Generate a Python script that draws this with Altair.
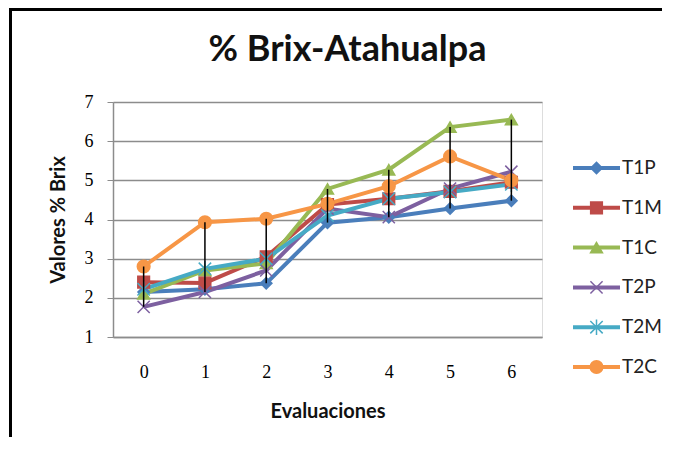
import altair as alt
import pandas as pd

evaluaciones = [0, 1, 2, 3, 4, 5, 6]
series = ["T1P", "T1M", "T1C", "T2P", "T2M", "T2C"]
T1P = [2.15, 2.22, 2.37, 3.92, 4.06, 4.28, 4.48]
T1M = [2.40, 2.38, 3.05, 4.38, 4.53, 4.72, 4.95]
T1C = [2.10, 2.70, 2.88, 4.78, 5.27, 6.36, 6.55]
T2P = [1.77, 2.15, 2.70, 4.28, 4.06, 4.79, 5.22]
T2M = [2.22, 2.74, 3.00, 4.10, 4.53, 4.70, 4.90]
T2C = [2.80, 3.93, 4.02, 4.40, 4.85, 5.61, 5.00]
y_ticks = [1, 2, 3, 4, 5, 6, 7]

colors = ["#4A7EBB", "#BE4B48", "#98B954", "#7D60A0", "#46AAC5", "#F79646"]
shapes = ["diamond", "square", "triangle-up",
          "M-1,-1L1,1M-1,1L1,-1",
          "M-1,-1L1,1M-1,1L1,-1M0,-1.25L0,1.25",
          "circle"]
sizes = [130, 160, 160, 140, 140, 180]

values = [T1P, T1M, T1C, T2P, T2M, T2C]
rows = []
for s, vals in zip(series, values):
    for e, v in zip(evaluaciones, vals):
        rows.append({"eval": e, "series": s, "value": v, "order": series.index(s)})
df = pd.DataFrame(rows)
leg = pd.DataFrame({"series": series})
one = pd.DataFrame({"k": [0]})

W, H = 429, 235
PL, PT = 105, 94

color_scale = alt.Scale(domain=series, range=colors)
shape_scale = alt.Scale(domain=series, range=shapes)
size_scale = alt.Scale(domain=series, range=sizes)

x_enc = alt.X("eval:O", scale=alt.Scale(type="point", padding=0.5),
              axis=alt.Axis(title="Evaluaciones", labelAngle=0, ticks=False,
                            labelPadding=26, titlePadding=20, domain=True,
                            domainColor="#8c8c8c", domainWidth=1.5,
                            labelFont="Liberation Serif", labelFontSize=18,
                            labelColor="#000000", titleFont="Lato",
                            titleFontSize=20, titleFontWeight="bold",
                            titleColor="#111111", grid=False))
y_axis = alt.Axis(title="Valores % Brix", values=y_ticks,
                  labelOverlap=False, labelBound=False,
                  tickSize=6, tickColor="#8c8c8c", labelPadding=14,
                  titlePadding=16, domainColor="#8c8c8c", domainWidth=1.5,
                  gridColor="#8c8c8c", gridWidth=1.5,
                  labelFont="Liberation Serif", labelFontSize=18,
                  labelColor="#000000", titleFont="Lato",
                  titleFontSize=20, titleFontWeight="bold",
                  titleColor="#111111")
y_scale = alt.Scale(domain=[1, 7], nice=False, zero=False)
y_enc = alt.Y("value:Q", scale=y_scale, axis=y_axis)

lines = alt.Chart(df).mark_line(strokeWidth=4).encode(
    x=x_enc, y=y_enc,
    color=alt.Color("series:N", scale=color_scale, legend=None),
    order="order:Q", detail="series:N")

points = alt.Chart(df).mark_point(filled=True, strokeWidth=1.5, opacity=1).encode(
    x=x_enc, y=y_enc,
    color=alt.Color("series:N", scale=color_scale, legend=None),
    stroke=alt.Stroke("series:N", scale=color_scale, legend=None),
    shape=alt.Shape("series:N", scale=shape_scale, legend=None),
    size=alt.Size("series:N", scale=size_scale, legend=None),
    order="order:Q")

hilo = alt.Chart(df).mark_rule(color="black", strokeWidth=1.5).encode(
    x=x_enc, y=alt.Y("min(value):Q", scale=y_scale, axis=y_axis),
    y2="max(value):Q")

main = alt.layer(lines, points, hilo)

ly = alt.Y("series:N", scale=alt.Scale(type="point", domain=series, range=[66, 265], padding=0), axis=None)
leg_line = alt.Chart(leg).mark_rule(strokeWidth=4).encode(
    x=alt.value(460), x2=alt.value(507), y=ly,
    color=alt.Color("series:N", scale=color_scale, legend=None))
leg_pt = alt.Chart(leg).mark_point(filled=True, strokeWidth=1.5, opacity=1).encode(
    x=alt.value(483.5), y=ly,
    color=alt.Color("series:N", scale=color_scale, legend=None),
    stroke=alt.Stroke("series:N", scale=color_scale, legend=None),
    shape=alt.Shape("series:N", scale=shape_scale, legend=None),
    size=alt.Size("series:N", scale=size_scale, legend=None))
leg_txt = alt.Chart(leg).mark_text(align="left", baseline="middle", font="Lato",
                                   fontSize=19, color="#222222", dx=0).encode(
    x=alt.value(509), y=ly, text="series:N")
legend = alt.layer(leg_line, leg_pt, leg_txt)

frame_left = alt.Chart(one).mark_rule(color="black", strokeWidth=3).encode(
    x=alt.value(-PL + 2.5), y=alt.value(-PT + 0.5), y2=alt.value(H + 200))
frame_top = alt.Chart(one).mark_rule(color="black", strokeWidth=3).encode(
    y=alt.value(-PT + 1.5), x=alt.value(-PL + 1), x2=alt.value(W + 140))
frame = alt.layer(frame_left, frame_top)

chart = alt.layer(frame, main, legend).resolve_scale(y="independent").properties(
    width=W, height=H,
    title=alt.TitleParams("% Brix-Atahualpa", font="Lato", fontSize=36,
                          fontWeight="bold", color="#111111", anchor="middle",
                          frame="group", dx=20, dy=127, baseline="alphabetic", offset=37),
    autosize=alt.AutoSizeParams(type="none"),
    padding={"left": PL, "top": PT, "right": 120, "bottom": 100},
).configure_view(stroke=None).configure(background="white")

chart.save("out.html", embed_options={"renderer": "svg", "actions": False})
